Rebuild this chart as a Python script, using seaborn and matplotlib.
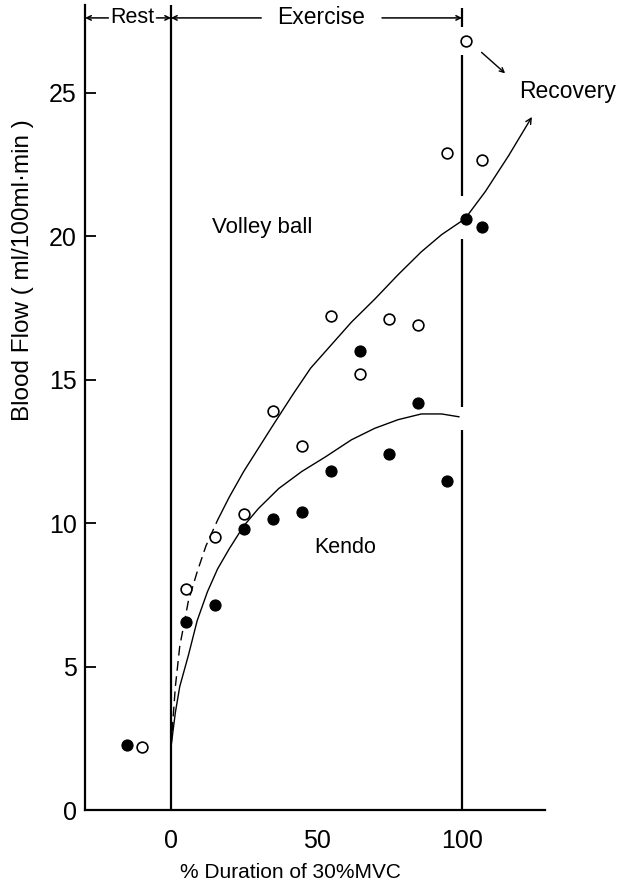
import matplotlib
matplotlib.use("Agg")
import matplotlib.pyplot as plt
import seaborn as sns

# ---- data ----
volley_x = [-10, 5, 15, 25, 35, 45, 55, 65, 75, 85, 95, 101.5, 107]
volley_y = [2.2, 7.7, 9.5, 10.3, 13.9, 12.7, 17.2, 15.2, 17.1, 16.9, 22.9, 26.8, 22.65]

kendo_x = [-15, 5, 15, 25, 35, 45, 55, 65, 75, 85, 95, 101.3, 107]
kendo_y = [2.25, 6.55, 7.13, 9.8, 10.14, 10.37, 11.82, 16.0, 12.4, 14.17, 11.47, 20.6, 20.3]

# hand-drawn fitted curves
volley_curve_x = [0, 1.5, 3, 6, 9, 12, 16, 20, 25, 30, 35, 42, 48, 55, 62, 70, 78, 86, 93, 101, 108, 116, 124]
volley_curve_y = [2.2, 4.3, 5.7, 7.3, 8.3, 9.2, 10.1, 10.9, 11.8, 12.6, 13.4, 14.5, 15.4, 16.2, 17.0, 17.8, 18.65, 19.45, 20.05, 20.6, 21.55, 22.8, 24.15]

kendo_curve_x = [0, 1.5, 3, 6, 9, 12.5, 16, 20, 25, 30, 37, 45, 53, 62, 70, 78, 86, 93, 99]
kendo_curve_y = [2.2, 3.4, 4.3, 5.4, 6.6, 7.6, 8.4, 9.1, 9.9, 10.5, 11.2, 11.8, 12.3, 12.9, 13.3, 13.6, 13.8, 13.8, 13.7]

x_ticks = [0, 50, 100]
y_ticks = [0, 5, 10, 15, 20, 25]

sns.set_style("ticks")
plt.rcParams["font.family"] = ["Liberation Sans", "DejaVu Sans"]
for k in ["text.color", "axes.labelcolor", "xtick.color", "ytick.color", "axes.edgecolor"]:
    plt.rcParams[k] = "black"

fig = plt.figure(figsize=(6.27, 8.84), dpi=100)
ax = fig.add_axes([85 / 627, 74 / 884, 460 / 627, 805 / 884])

lw_axis = 1.6
lw_curve = 1.0

# curves
dash_end = 7
sns.lineplot(x=volley_curve_x[:dash_end], y=volley_curve_y[:dash_end], ax=ax, color="black",
             lw=lw_curve, sort=False, estimator=None)
ax.lines[-1].set_dashes([7, 4])
sns.lineplot(x=volley_curve_x[dash_end - 1:-1], y=volley_curve_y[dash_end - 1:-1], ax=ax, color="black",
             lw=lw_curve, sort=False, estimator=None)
ax.annotate("", xy=(volley_curve_x[-1], volley_curve_y[-1]),
            xytext=(volley_curve_x[-2], volley_curve_y[-2]),
            arrowprops=dict(arrowstyle="->", lw=lw_curve, color="black", mutation_scale=10,
                            shrinkA=0, shrinkB=0))
sns.lineplot(x=kendo_curve_x, y=kendo_curve_y, ax=ax, color="black", lw=lw_curve,
             sort=False, estimator=None)

# points
sns.scatterplot(x=volley_x, y=volley_y, ax=ax, marker="o", s=60, facecolor="white",
                edgecolor="black", linewidth=1.2, zorder=5)
sns.scatterplot(x=kendo_x, y=kendo_y, ax=ax, marker="o", s=64, color="black",
                edgecolor="black", linewidth=0.8, zorder=5)

# vertical phase lines
ax.vlines(0, 0, 28.05, color="black", lw=lw_axis)
for lo, hi in [(0, 13.25), (14.05, 19.9), (21.4, 26.3), (27.3, 27.95)]:
    ax.vlines(100, lo, hi, color="black", lw=lw_axis)

# top phase annotations
ytop = 27.6
arr = dict(arrowstyle="->", lw=1.1, color="black", mutation_scale=8, shrinkA=0, shrinkB=0)
ax.annotate("", xy=(-29.5, ytop), xytext=(-21.5, ytop), arrowprops=arr)
ax.text(-13.2, ytop, "Rest", ha="center", va="center", fontsize=15.5)
ax.annotate("", xy=(0, ytop), xytext=(-5.0, ytop), arrowprops=arr)
ax.annotate("", xy=(0, ytop), xytext=(31, ytop), arrowprops=arr)
ax.text(51.5, ytop, "Exercise", ha="center", va="center", fontsize=16.5)
ax.annotate("", xy=(100, ytop), xytext=(72.5, ytop), arrowprops=arr)

# recovery annotation
ax.annotate("", xy=(114.8, 25.67), xytext=(106.7, 26.4),
            arrowprops=dict(arrowstyle="->", lw=1.0, color="black", mutation_scale=8,
                            shrinkA=0, shrinkB=0), annotation_clip=False)
ax.text(119.6, 25.05, "Recovery", ha="left", va="center", fontsize=16.5, clip_on=False)

ax.text(31.5, 20.3, "Volley ball", ha="center", va="center", fontsize=16)
ax.text(60, 9.13, "Kendo", ha="center", va="center", fontsize=15.5)

ax.set_xlim(-29.55, 128.5)
ax.set_ylim(0, 28.05)
ax.set_xticks(x_ticks)
ax.set_yticks(y_ticks)
ax.tick_params(axis="x", length=0, pad=14, labelsize=18)
ax.tick_params(axis="y", direction="in", length=8, width=1.3, pad=6, labelsize=18)
for s in ["top", "right"]:
    ax.spines[s].set_visible(False)
for s in ["left", "bottom"]:
    ax.spines[s].set_linewidth(lw_axis)
ax.set_xlabel("")
ax.set_ylabel("")

fig.text(290 / 627, 1 - 872 / 884, "% Duration of 30%MVC", ha="center", va="center", fontsize=15)
fig.text(23 / 627, 1 - 270 / 884, "Blood Flow ( ml/100ml·min )", ha="center", va="center",
         rotation=90, fontsize=17.5)

fig.savefig("out.png", dpi=100)
